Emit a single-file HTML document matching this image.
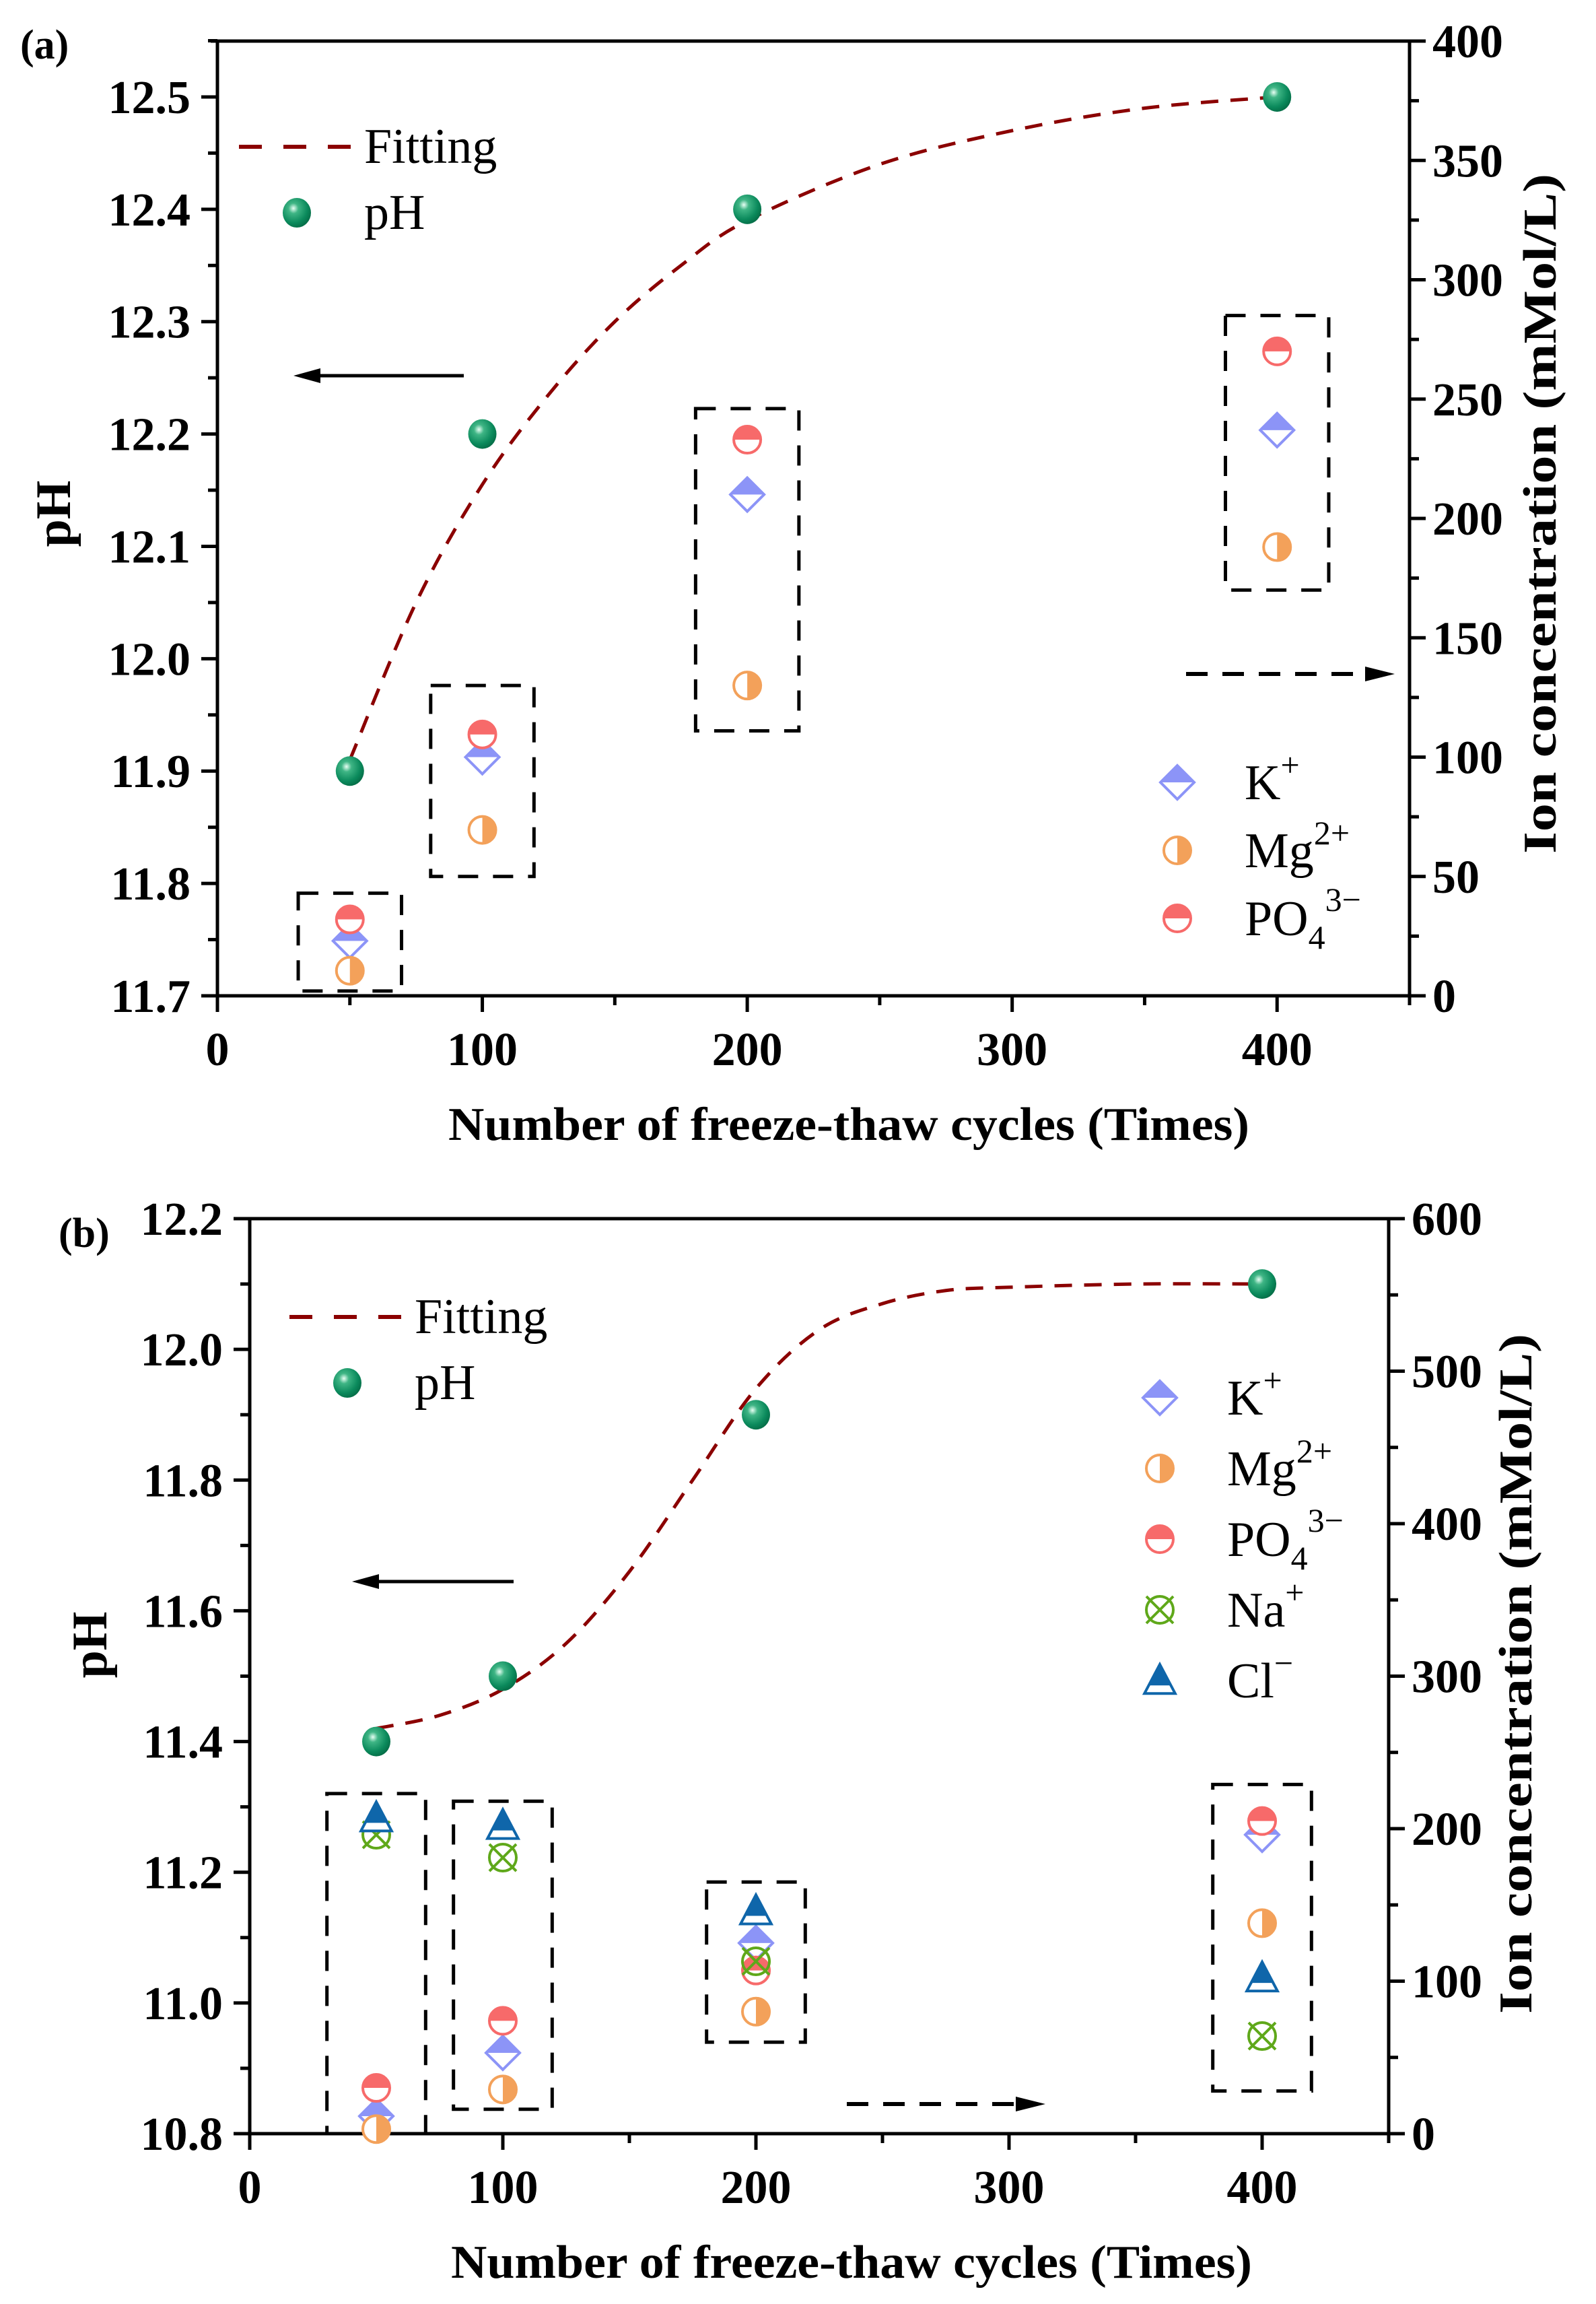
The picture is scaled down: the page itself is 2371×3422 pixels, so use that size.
<!DOCTYPE html>
<html><head><meta charset="utf-8">
<style>
html,body{margin:0;padding:0;background:#fff;}
svg{display:block;}
text{font-family:"Liberation Serif",serif;}
</style></head>
<body>
<svg id="fig" width="2371" height="3422" viewBox="0 0 2371 3422" xmlns="http://www.w3.org/2000/svg">
<defs>
<radialGradient id="ball" cx="0.38" cy="0.35" r="0.7">
<stop offset="0" stop-color="#e8fff4"/><stop offset="0.25" stop-color="#3fb585"/><stop offset="0.7" stop-color="#0b8a5c"/><stop offset="1" stop-color="#056b45"/>
</radialGradient>
</defs>
</svg>
<script>
// ---------- Panel (a) data ----------
const cyclesA = [50, 100, 200, 400];
const phA = [11.9, 12.2, 12.4, 12.5];
const kA = [23, 100, 210, 237];
const mgA = [10.5, 69.5, 130, 188];
const po4A = [32, 109.5, 233, 270];
const fitXA = [50, 75, 100, 125, 150, 175, 200, 250, 300, 350, 400];
const fitYA = [11.91, 12.05, 12.155, 12.235, 12.30, 12.35, 12.39, 12.44, 12.47, 12.49, 12.5];
const boxLoA = [2, 50, 111, 170];
const boxHiA = [43, 130, 246, 285];
const xTicksA = [0, 100, 200, 300, 400];
const yTicksA = ['11.7', '11.8', '11.9', '12.0', '12.1', '12.2', '12.3', '12.4', '12.5'];
const rTicksA = [0, 50, 100, 150, 200, 250, 300, 350, 400];

// ---------- Panel (b) data ----------
const cyclesB = [50, 100, 200, 400];
const phB = [11.4, 11.5, 11.9, 12.1];
const kB = [11.5, 53, 125, 196];
const mgB = [3, 29, 80, 138];
const po4B = [30, 74, 107, 205];
const naB = [196, 181, 113, 64];
const clB = [207, 202, 146, 102];
const fitXB = [50, 75, 100, 125, 150, 175, 200, 225, 250, 275, 300, 350, 400];
const fitYB = [11.42, 11.44, 11.48, 11.55, 11.66, 11.80, 11.94, 12.03, 12.07, 12.09, 12.095, 12.1, 12.1];
const boxLoB = [0, 16, 60, 28];
const boxHiB = [223, 218, 165, 229];
const xTicksB = [0, 100, 200, 300, 400];
const yTicksB = ['10.8', '11.0', '11.2', '11.4', '11.6', '11.8', '12.0', '12.2'];
const rTicksB = [0, 100, 200, 300, 400, 500, 600];

const NS = 'http://www.w3.org/2000/svg';
const svg = document.getElementById('fig');
function mk(tag, attrs, parent) {
  const e = document.createElementNS(NS, tag);
  for (const k in attrs) e.setAttribute(k, attrs[k]);
  (parent || svg).appendChild(e);
  return e;
}
const C = {k: '#8c94f7', mg: '#f3a15a', po4: '#f76a6a', na: '#5fa81a', cl: '#0f66aa', fit: '#8b0000'};
const R = 20;

function markerK(g, x, y) {
  const h = 25;
  const m = mk('g', {}, g);
  
  
  mk('polygon', {points: `${x},${y-h} ${x+h},${y} ${x},${y+h} ${x-h},${y}`, fill: '#fff', stroke: C.k, 'stroke-width': 4}, m);
  mk('polygon', {points: `${x},${y-h} ${x+h},${y} ${x-h},${y}`, fill: C.k}, m);
}
function markerMg(g, x, y) {
  const m = mk('g', {}, g);
  
  
  mk('circle', {cx: x, cy: y, r: R, fill: '#fff', stroke: C.mg, 'stroke-width': 4}, m);
  mk('path', {d: `M${x},${y-R} A${R},${R} 0 0 1 ${x},${y+R} Z`, fill: C.mg}, m);
}
function markerPO4(g, x, y) {
  const m = mk('g', {}, g);
  
  
  mk('circle', {cx: x, cy: y, r: R, fill: '#fff', stroke: C.po4, 'stroke-width': 4}, m);
  mk('path', {d: `M${x-R},${y} A${R},${R} 0 0 1 ${x+R},${y} Z`, fill: C.po4}, m);
}
function markerNa(g, x, y) {
  const m = mk('g', {}, g);
  
  
  mk('circle', {cx: x, cy: y, r: R, fill: 'none', stroke: C.na, 'stroke-width': 4}, m);
  mk('path', {d: `M${x-R},${y-R} L${x+R},${y+R} M${x+R},${y-R} L${x-R},${y+R}`, stroke: C.na, 'stroke-width': 4}, m);
}
function markerCl(g, x, y) {
  const m = mk('g', {}, g);
  
  
  const h = 24;
  mk('polygon', {points: `${x},${y-h} ${x+h*0.95},${y+h*0.8} ${x-h*0.95},${y+h*0.8}`, fill: '#fff', stroke: C.cl, 'stroke-width': 4}, m);
  mk('polygon', {points: `${x},${y-h} ${x+h*0.68},${y+h*0.3} ${x-h*0.68},${y+h*0.3}`, fill: C.cl}, m);
}
function markerPH(g, x, y) {
  const c = mk('ellipse', {cx: x, cy: y, rx: 21, ry: 22, fill: 'url(#ball)'}, g);
  
  
}

function smoothPath(pts) {
  let d = `M${pts[0][0]},${pts[0][1]}`;
  for (let i = 0; i < pts.length - 1; i++) {
    const p0 = pts[i - 1] || pts[i], p1 = pts[i], p2 = pts[i + 1], p3 = pts[i + 2] || p2;
    const c1 = [p1[0] + (p2[0] - p0[0]) / 6, p1[1] + (p2[1] - p0[1]) / 6];
    const c2 = [p2[0] - (p3[0] - p1[0]) / 6, p2[1] - (p3[1] - p1[1]) / 6];
    d += ` C${c1[0]},${c1[1]} ${c2[0]},${c2[1]} ${p2[0]},${p2[1]}`;
  }
  return d;
}

function drawPanel(P) {
  const g = mk('g', {});
  
  
  const sx = v => P.L + (v - 0) / 450 * (P.R - P.L);
  const sy = v => P.B - (v - P.yMin) / (P.yMax - P.yMin) * (P.B - P.T);
  const sr = v => P.B - v / P.rMax * (P.B - P.T);

  const ax = mk('path', {d: `M${P.L-10},${P.T} L${P.R},${P.T} L${P.R},${P.B} L${P.L},${P.B} L${P.L},${P.T}`, fill: 'none', stroke: '#000', 'stroke-width': 5}, g);
  
  

  const xt = mk('g', {}, g);
  
  
  for (let v = 0; v <= 450; v += 50) {
    const major = v % 100 === 0;
    mk('line', {x1: sx(v), x2: sx(v), y1: P.B, y2: P.B + (major ? 24 : 14), stroke: '#000', 'stroke-width': 5}, xt);
  }
  P.xTicks.forEach(v => {
    const t = mk('text', {x: sx(v), y: P.B + 103, 'text-anchor': 'middle', 'font-size': 70, 'font-weight': 'bold'}, xt);
    t.textContent = v;
    
    
  });
  const yt = mk('g', {}, g);
  
  
  const nMinor = Math.round((P.yMaxTick - P.yMin) / P.yStep * 2);
  for (let i = 0; i <= nMinor + 1; i++) {
    const v = P.yMin + i * P.yStep / 2;
    if (sy(v) < P.T - 1) break;
    mk('line', {x1: P.L, x2: P.L - (i % 2 === 0 ? 24 : 14), y1: sy(v), y2: sy(v), stroke: '#000', 'stroke-width': 5}, yt);
  }
  P.yTicks.forEach(s => {
    const t = mk('text', {x: P.L - 40, y: sy(parseFloat(s)) + 24, 'text-anchor': 'end', 'font-size': 70, 'font-weight': 'bold'}, yt);
    t.textContent = s;
    
    
  });
  const rt = mk('g', {}, g);
  
  
  for (let v = 0; v <= P.rMax; v += P.rStep / 2) {
    const major = Math.round(v / (P.rStep / 2)) % 2 === 0;
    mk('line', {x1: P.R, x2: P.R + (major ? 24 : 14), y1: sr(v), y2: sr(v), stroke: '#000', 'stroke-width': 5}, rt);
  }
  P.rTicks.forEach(v => {
    const t = mk('text', {x: P.R + 34, y: sr(v) + 24, 'font-size': 70, 'font-weight': 'bold'}, rt);
    t.textContent = v;
    
    
  });

  const xtit = mk('text', {x: P.xTitleX, y: P.B + 214, 'text-anchor': 'middle', 'font-size': 70, 'font-weight': 'bold', textLength: 1190, lengthAdjust: 'spacingAndGlyphs'}, g);
  xtit.textContent = 'Number of freeze-thaw cycles (Times)';
  
  
  const ytit = mk('text', {x: 0, y: 0, 'text-anchor': 'middle', 'font-size': 74, 'font-weight': 'bold', transform: `translate(${P.pHX},${P.pHY}) rotate(-90)`}, g);
  ytit.textContent = 'pH';
  
  
  const rtit = mk('text', {x: 0, y: 0, 'text-anchor': 'middle', 'font-size': 70, 'font-weight': 'bold', textLength: 1010, lengthAdjust: 'spacingAndGlyphs', transform: `translate(${P.rTitX},${P.rTitY}) rotate(-90)`}, g);
  rtit.textContent = 'Ion concentration (mMol/L)';
  
  
  const lab = mk('text', {x: P.labX, y: P.labY, 'font-size': 62, 'font-weight': 'bold'}, g);
  lab.textContent = P.label;
  
  

  P.cycles.forEach((c, i) => {
    const b = mk('rect', {x: sx(c - 19.5), y: sr(P.boxHi[i]), width: sx(c + 19.5) - sx(c - 19.5), height: sr(P.boxLo[i]) - sr(P.boxHi[i]), fill: 'none', stroke: '#000', 'stroke-width': 5, 'stroke-dasharray': '30,22'}, g);
    
    
  });

  const fp = P.fitX.map((x, i) => [sx(x), sy(P.fitY[i])]);
  const fit = mk('path', {d: smoothPath(fp), fill: 'none', stroke: C.fit, 'stroke-width': 5, 'stroke-dasharray': '26,18'}, g);
  
  

  const ions = mk('g', {}, g);
  
  
  P.cycles.forEach((c, i) => {
    markerK(ions, sx(c), sr(P.k[i]));
    markerMg(ions, sx(c), sr(P.mg[i]));
    markerPO4(ions, sx(c), sr(P.po4[i]));
    if (P.na) markerNa(ions, sx(c), sr(P.na[i]));
    if (P.cl) markerCl(ions, sx(c), sr(P.cl[i]));
  });
  const phg = mk('g', {}, g);
  
  
  P.cycles.forEach((c, i) => markerPH(phg, sx(c), sy(P.ph[i])));

  const lg = mk('g', {}, g);
  
  
  mk('line', {x1: P.lgX, x2: P.lgX + 172, y1: P.lgY, y2: P.lgY, stroke: C.fit, 'stroke-width': 6, 'stroke-dasharray': '34,32'}, lg);
  const lt1 = mk('text', {x: P.lgX + 186, y: P.lgY + 24, 'font-size': 74}, lg);
  lt1.textContent = 'Fitting';
  
  
  markerPH(lg, P.lgX + 86, P.lgY + 98);
  const lt2 = mk('text', {x: P.lgX + 186, y: P.lgY + 122, 'font-size': 74}, lg);
  lt2.textContent = 'pH';
  
  

  const il = mk('g', {}, g);
  
  
  const entries = [[markerK, 'K', '+', ''], [markerMg, 'Mg', '2+', ''], [markerPO4, 'PO', '3−', '4']];
  if (P.na) entries.push([markerNa, 'Na', '+', '']);
  if (P.cl) entries.push([markerCl, 'Cl', '−', '']);
  entries.forEach((e, i) => {
    const y = P.ilY + i * P.ilStep;
    e[0](il, P.ilX, y);
    const t = mk('text', {x: P.ilX + 100, y: y + 25, 'font-size': 74}, il);
    
    
    t.appendChild(document.createTextNode(e[1]));
    if (e[3]) { const s = mk('tspan', {dy: 20, 'font-size': 50}, t); s.textContent = e[3]; }
    const sp = mk('tspan', {dy: e[3] ? -56 : -34, 'font-size': 50}, t);
    sp.textContent = e[2];
  });

  const a1 = mk('g', {}, g);
  
  
  mk('line', {x1: P.a1[0], x2: P.a1[1] + 30, y1: P.a1[2], y2: P.a1[2], stroke: '#000', 'stroke-width': 5}, a1);
  mk('polygon', {points: `${P.a1[1]},${P.a1[2]} ${P.a1[1]+40},${P.a1[2]-11} ${P.a1[1]+40},${P.a1[2]+11}`, fill: '#000'}, a1);
  const a2 = mk('g', {}, g);
  
  
  mk('line', {x1: P.a2[0], x2: P.a2[1] - 36, y1: P.a2[2], y2: P.a2[2], stroke: '#000', 'stroke-width': 6, 'stroke-dasharray': '32,22'}, a2);
  mk('polygon', {points: `${P.a2[1]},${P.a2[2]} ${P.a2[1]-44},${P.a2[2]-11} ${P.a2[1]-44},${P.a2[2]+11}`, fill: '#000'}, a2);
}

drawPanel({
  name: 'panel-a', label: '(a)', labX: 30, labY: 87,
  L: 323, R: 2094, T: 61, B: 1479, yMin: 11.7, yMax: 12.5497, yMaxTick: 12.55, yStep: 0.1, rMax: 400, rStep: 50,
  xTicks: xTicksA, yTicks: yTicksA, rTicks: rTicksA,
  cycles: cyclesA, ph: phA, k: kA, mg: mgA, po4: po4A, fitX: fitXA, fitY: fitYA, boxLo: boxLoA, boxHi: boxHiA,
  xTitleX: 1261, pHX: 104, pHY: 763, rTitX: 2311, rTitY: 763,
  lgX: 355, lgY: 218, ilX: 1749, ilY: 1162, ilStep: 101,
  a1: [689, 436, 558], a2: [1762, 2072, 1001]
});
drawPanel({
  name: 'panel-b', label: '(b)', labX: 87, labY: 1852,
  L: 371, R: 2063, T: 1810, B: 3169, yMin: 10.8, yMax: 12.2, yMaxTick: 12.2, yStep: 0.2, rMax: 600, rStep: 100,
  xTicks: xTicksB, yTicks: yTicksB, rTicks: rTicksB,
  cycles: cyclesB, ph: phB, k: kB, mg: mgB, po4: po4B, na: naB, cl: clB, fitX: fitXB, fitY: fitYB, boxLo: boxLoB, boxHi: boxHiB,
  xTitleX: 1265, pHX: 158, pHY: 2443, rTitX: 2275, rTitY: 2486,
  lgX: 430, lgY: 1956, ilX: 1723, ilY: 2076, ilStep: 105,
  a1: [763, 523, 2349], a2: [1258, 1553, 3125]
});
</script>
</body></html>
